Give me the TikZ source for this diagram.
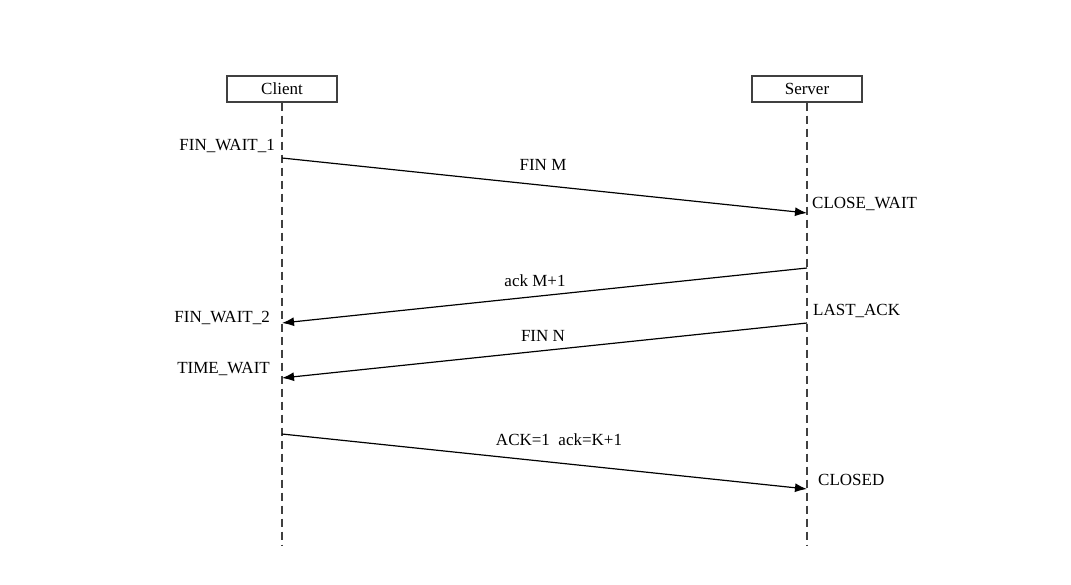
\documentclass[tikz,border=0pt]{standalone}
\usepackage{fontspec}
\setmainfont{Liberation Serif}
\usetikzlibrary{arrows.meta,positioning}
\tikzset{
    tcpbox/.style={draw=black!75, line width=1.4pt, minimum width=110pt, minimum height=26pt, inner sep=0pt, font=\fontsize{17}{20}\selectfont},
    tcplife/.style={draw=black!75, line width=1.3pt, dash pattern=on 8pt off 5pt},
    tcparrow/.style={-{Latex[length=12pt,width=9pt]}, line width=1.2pt},
    tcpmsg/.style={font=\fontsize{17}{20}\selectfont, inner sep=0pt},
    tcpstate/.style={font=\fontsize{17}{20}\selectfont, inner sep=0pt}
}
\begin{document}
\begin{tikzpicture}[x=1pt, y=-1pt]
    \useasboundingbox (0,0) rectangle (1071,584);
    \node[tcpbox] (client) at (282,89) {Client};
    \node[tcpbox] (server) at (807,89) {Server};
    \coordinate (cend) at (282,545);
    \coordinate (send) at (807,545);
    \draw[tcplife] (client) -- (cend);
    \draw[tcplife] (server) -- (send);

    % message ends on the lifelines
    \coordinate (c1) at (282,158);
    \coordinate (s1) at (807,213);
    \coordinate (s2) at (807,268);
    \coordinate (c2) at (282,323);
    \coordinate (s3) at (807,323);
    \coordinate (c3) at (282,378);
    \coordinate (c4) at (282,434);
    \coordinate (s4) at (807,489);

    \draw[tcparrow] (c1) -- (s1);
    \draw[tcparrow] (s2) -- (c2);
    \draw[tcparrow] (s3) -- (c3);
    \draw[tcparrow] (c4) -- (s4);

    \node[tcpmsg] (finm) at (543,165) {FIN M};
    \node[tcpmsg] (ackm) at (535,281) {ack M+1};
    \node[tcpmsg] (finn) at (543,336) {FIN N};
    \node[tcpmsg] (ackk) at (559,440) {ACK=1\ \ ack=K+1};

    \node[tcpstate, anchor=east] (finwait1) at (275,146) {FIN\_WAIT\_1};
    \node[tcpstate, anchor=west] (closewait) at (812,204) {CLOSE\_WAIT};
    \node[tcpstate, anchor=east] (finwait2) at (270,318) {FIN\_WAIT\_2};
    \node[tcpstate, anchor=west] (lastack) at (813,311) {LAST\_ACK};
    \node[tcpstate, anchor=east] (timewait) at (270,369) {TIME\_WAIT};
    \node[tcpstate, anchor=west] (closed) at (818,480) {CLOSED};
\end{tikzpicture}
\end{document}
